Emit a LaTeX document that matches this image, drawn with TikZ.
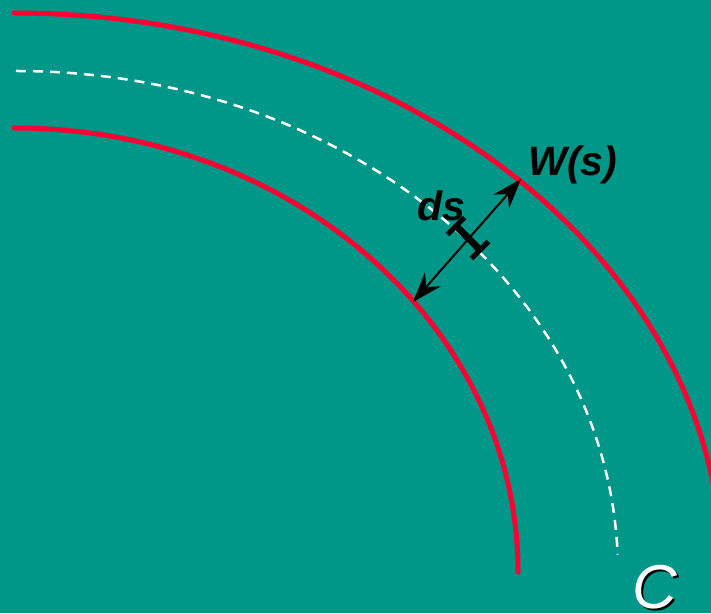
\documentclass[tikz,border=0pt]{standalone}
\usepackage{fontspec}
\setmainfont{Liberation Sans}
\usetikzlibrary{arrows.meta,calc}
\definecolor{bg}{RGB}{0,150,136}
\definecolor{arcred}{RGB}{255,0,51}
\tikzset{
  redarc/.style={draw=arcred,line width=5pt,line cap=round},
  midarc/.style={draw=white,line width=2.5pt,dash pattern=on 10pt off 7pt},
  widtharrow/.style={draw=black,line width=2pt,{Stealth[length=30pt,width=21pt,inset=10pt]}-{Stealth[length=30pt,width=21pt,inset=10pt]}},
  dsbar/.style={draw=black,line width=7pt},
  dscap/.style={draw=black,line width=5pt},
  lab/.style={font=\fontsize{41}{41}\selectfont\bfseries\itshape,text=black,inner sep=0pt},
  clab/.style={font=\fontsize{62}{62}\selectfont\itshape,inner sep=0pt}
}
\begin{document}
\begin{tikzpicture}[x=1pt,y=1pt]
\useasboundingbox (0,0) rectangle (711,613);
\fill[bg] (0,0) rectangle (711,613);
\clip (0,0) rectangle (711,613);
% arcs (centre at px (14,572) -> (14,41))
\coordinate (ctr) at (14,41);
\draw[redarc] (14,600) arc[start angle=90,end angle=0,x radius=708,y radius=559];
\draw[midarc] (16,542) arc[start angle=90,end angle=2,x radius=602,y radius=501];
\draw[redarc] (14,485) arc[start angle=90,end angle=0,x radius=504,y radius=444];
% width arrow
\coordinate (a1) at (413,311);
\coordinate (a2) at (521,434);
\draw[widtharrow] (a1) -- (a2);
% ds element
\coordinate (b1) at (456,387);
\coordinate (b2) at (480,363);
\draw[dsbar] (b1) -- (b2);
\draw[dscap] ($(b1)!12pt!90:(b2)$) -- ($(b1)!12pt!-90:(b2)$);
\draw[dscap] ($(b2)!12pt!90:(b1)$) -- ($(b2)!12pt!-90:(b1)$);
% labels
\node[lab] (W) at (573,448) {W(s)};
\node[lab] (ds) at (441,407) {ds};
\node[clab,text=black] (Cs) at (657,24) {C};
\node[clab,text=white] (C) at (655,26) {C};
\end{tikzpicture}
\end{document}
